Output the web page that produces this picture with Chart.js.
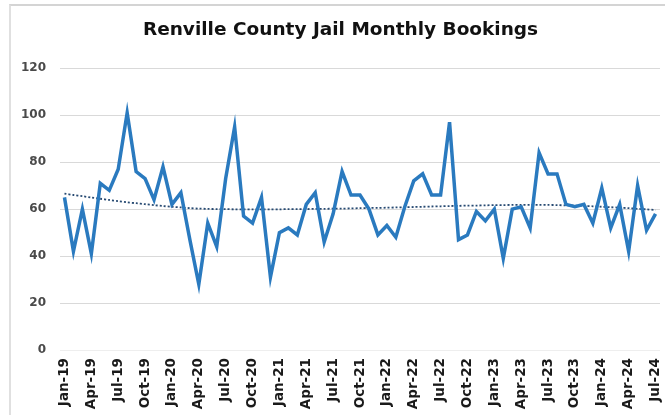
<!DOCTYPE html>
<html lang="en">
<head>
  <meta charset="UTF-8">
  <title>Renville County Jail Monthly Bookings</title>
  <script src="https://cdn.jsdelivr.net/npm/chart.js"></script>
  <style>
    body {
      margin: 0;
      background-color: #ffffff;
    }

    /* Fixed size box for the chart */
    .chart-box {
      position: relative;
      width: 665px;
      height: 415px;
    }

    /* Thin frame line on top and left */
    .frame {
      position: absolute;
      left: 9px;
      top: 4px;
      right: 0;
      bottom: 0;
      border-top: 2px solid #d4d4d4;
      border-left: 2px solid #e0e0e0;
      pointer-events: none;
    }
  </style>
</head>
<body>
  <div class="chart-box">
    <canvas id="bookingsChart" width="665" height="415"></canvas>
    <div class="frame"></div>
  </div>

  <script>
    // Month names and years for the category axis
    const months = ['Jan', 'Feb', 'Mar', 'Apr', 'May', 'Jun', 'Jul', 'Aug', 'Sep', 'Oct', 'Nov', 'Dec'];
    const years = ['19', '20', '21', '22', '23', '24'];
    const lastMonthCount = 7; // 2024 runs Jan to Jul

    const categories = [];
    years.forEach((yr, y) => {
      const count = y === years.length - 1 ? lastMonthCount : 12;
      for (let m = 0; m < count; m++) {
        categories.push(months[m] + '-' + yr);
      }
    });

    // Monthly bookings
    const bookings = [
      65, 42, 60, 41, 71, 68, 77, 101, 76, 73, 64, 78,
      62, 67, 47, 28, 54, 44, 73, 95, 57, 54, 65, 31,
      50, 52, 49, 62, 67, 46, 58, 76, 66, 66, 60, 49,
      53, 48, 61, 72, 75, 66, 66, 97, 47, 49, 59, 55,
      60, 39, 60, 61, 52, 84, 75, 75, 62, 61, 62, 54,
      69, 52, 62, 42, 70, 51, 58
    ];

    // Dotted trend line
    const trend = [
      66.6, 66.0, 65.5, 64.9, 64.4, 63.9, 63.4, 62.9, 62.5, 62.1, 61.7, 61.3,
      61.0, 60.7, 60.4, 60.2, 60.1, 60.0, 60.0, 59.9, 59.9, 59.9, 59.9, 59.9,
      59.9, 60.0, 60.0, 60.0, 60.1, 60.1, 60.2, 60.2, 60.3, 60.4, 60.5, 60.5,
      60.6, 60.7, 60.8, 60.9, 61.0, 61.1, 61.2, 61.3, 61.4, 61.5, 61.5, 61.6,
      61.7, 61.7, 61.8, 61.8, 61.8, 61.8, 61.8, 61.7, 61.6, 61.5, 61.4, 61.2,
      61.0, 60.8, 60.6, 60.4, 60.1, 59.9, 59.6
    ];

    // Y axis ticks
    const yTicks = [0, 20, 40, 60, 80, 100, 120];

    const ctx = document.getElementById('bookingsChart').getContext('2d');
    new Chart(ctx, {
      type: 'line',
      data: {
        labels: categories,
        datasets: [
          {
            label: 'Bookings',
            data: bookings,
            borderColor: '#2a7abf',
            borderWidth: 3.5,
            pointRadius: 0,
            tension: 0,
            fill: false,
            order: 1
          },
          {
            label: 'Trend',
            data: trend,
            borderColor: '#274a72',
            borderWidth: 1.8,
            borderDash: [2, 2],
            pointRadius: 0,
            tension: 0.3,
            fill: false,
            order: 2
          }
        ]
      },
      options: {
        responsive: false,
        animation: false,
        layout: {
          padding: { left: 21, right: 5, top: 0, bottom: 0 }
        },
        plugins: {
          legend: { display: false },
          tooltip: { enabled: false },
          title: {
            display: true,
            text: 'Renville County Jail Monthly Bookings',
            color: '#111111',
            font: { family: 'DejaVu Sans', size: 18.5, weight: 'bold' },
            padding: { top: 19, bottom: 27 }
          }
        },
        scales: {
          x: {
            offset: true,
            afterFit: function (scale) {
              scale.paddingLeft = 0;
              scale.paddingRight = 0;
              scale.height = 65;
            },
            grid: { display: false },
            border: { display: false },
            ticks: {
              autoSkip: false,
              minRotation: 90,
              maxRotation: 90,
              padding: 0,
              color: '#1a1a1a',
              font: { family: 'DejaVu Sans', size: 13.5, weight: 'bold' },
              callback: function (value, index) {
                return index % 3 === 0 ? categories[index] : '';
              }
            }
          },
          y: {
            min: yTicks[0],
            max: yTicks[yTicks.length - 1],
            afterFit: function (scale) {
              scale.width = 39;
            },
            afterBuildTicks: function (scale) {
              scale.ticks = yTicks.map(v => ({ value: v }));
            },
            grid: {
              drawTicks: false,
              color: function (c) {
                return c.tick && c.tick.value === 0 ? '#eeeeee' : '#d9d9d9';
              }
            },
            border: { display: false },
            ticks: {
              padding: 14,
              color: '#4a4a4a',
              font: { family: 'DejaVu Sans', size: 12, weight: 'bold' }
            }
          }
        }
      }
    });
  </script>
</body>
</html>
